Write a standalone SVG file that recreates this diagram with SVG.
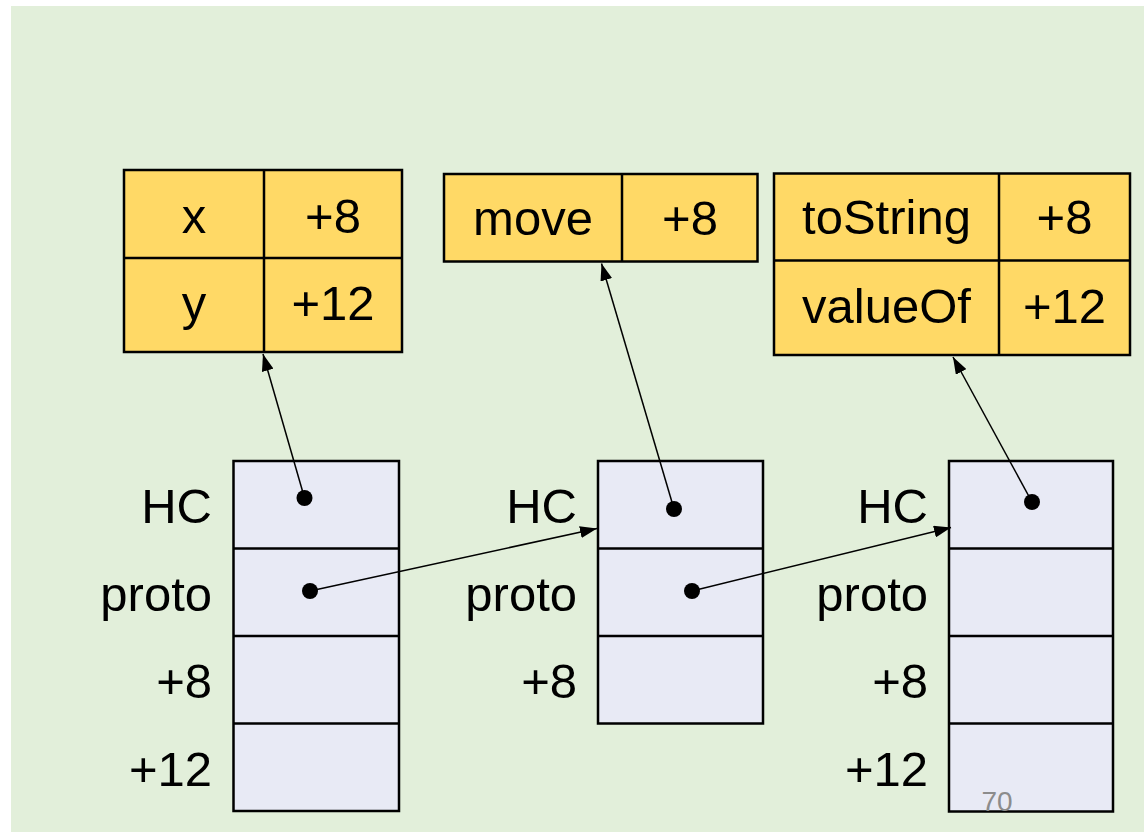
<svg xmlns="http://www.w3.org/2000/svg" width="1144" height="832" viewBox="0 0 1144 832">
<defs>
<style>
.t{font-family:"Liberation Sans",Arial,sans-serif;font-size:49px;fill:#000;text-anchor:middle}
.l{font-family:"Liberation Sans",Arial,sans-serif;font-size:49px;fill:#000;text-anchor:end}
.y{fill:#FFD966;stroke:#000;stroke-width:2.5}
.m{fill:#E8EAF5;stroke:#000;stroke-width:2.5}
.ln{stroke:#000;stroke-width:2.5;fill:none}
.c{stroke:#000;stroke-width:1.5;fill:none;marker-end:url(#ah)}
.pg{font-family:"Liberation Sans",Arial,sans-serif;font-size:28px;fill:#8C8C8C;text-anchor:middle}
</style>
<marker id="ah" viewBox="0 0 10 10" refX="10" refY="5" markerWidth="17" markerHeight="12" markerUnits="userSpaceOnUse" orient="auto-start-reverse" preserveAspectRatio="none">
<path d="M0,0 L10,5 L0,10 z" fill="#000"/>
</marker>
</defs>
<rect x="0" y="0" width="1144" height="832" fill="#fff"/>
<rect x="11" y="6" width="1133" height="826" fill="#E2EFDA"/>

<g id="table-xy">
<rect class="y" x="124" y="170" width="278" height="182"/>
<line class="ln" x1="124" y1="258" x2="402" y2="258"/>
<line class="ln" x1="264" y1="170" x2="264" y2="352"/>
<text class="t" x="194" y="233">x</text>
<text class="t" x="333" y="233">+8</text>
<text class="t" x="194" y="320">y</text>
<text class="t" x="333" y="320">+12</text>
</g>

<g id="table-move">
<rect class="y" x="444" y="174" width="313.5" height="87.5"/>
<line class="ln" x1="622" y1="174" x2="622" y2="261.5"/>
<text class="t" x="533" y="235">move</text>
<text class="t" x="690" y="235">+8</text>
</g>

<g id="table-proto">
<rect class="y" x="774" y="173.5" width="356" height="181.5"/>
<line class="ln" x1="774" y1="260.5" x2="1130" y2="260.5"/>
<line class="ln" x1="999" y1="173.5" x2="999" y2="355"/>
<text class="t" x="886.5" y="234">toString</text>
<text class="t" x="1064.5" y="234">+8</text>
<text class="t" x="886.5" y="323">valueOf</text>
<text class="t" x="1064.5" y="323">+12</text>
</g>

<g id="obj1">
<rect class="m" x="233.5" y="461" width="165.5" height="350"/>
<line class="ln" x1="233.5" y1="548.5" x2="399" y2="548.5"/>
<line class="ln" x1="233.5" y1="636" x2="399" y2="636"/>
<line class="ln" x1="233.5" y1="723.5" x2="399" y2="723.5"/>
<text class="l" x="212" y="523">HC</text>
<text class="l" x="212" y="611">proto</text>
<text class="l" x="212" y="698">+8</text>
<text class="l" x="212" y="786">+12</text>
<circle cx="304.5" cy="498" r="8"/>
<circle cx="310" cy="591" r="8"/>
</g>

<g id="obj2">
<rect class="m" x="598" y="461" width="165" height="262.5"/>
<line class="ln" x1="598" y1="548.5" x2="763" y2="548.5"/>
<line class="ln" x1="598" y1="636" x2="763" y2="636"/>
<text class="l" x="577" y="523">HC</text>
<text class="l" x="577" y="611">proto</text>
<text class="l" x="577" y="698">+8</text>
<circle cx="674" cy="509" r="8"/>
<circle cx="692" cy="591" r="8"/>
</g>

<g id="obj3">
<rect class="m" x="949" y="461" width="164" height="350.5"/>
<line class="ln" x1="949" y1="548.5" x2="1113" y2="548.5"/>
<line class="ln" x1="949" y1="636" x2="1113" y2="636"/>
<line class="ln" x1="949" y1="723.5" x2="1113" y2="723.5"/>
<text class="l" x="928" y="523">HC</text>
<text class="l" x="928" y="611">proto</text>
<text class="l" x="928" y="698">+8</text>
<text class="l" x="928" y="786">+12</text>
<circle cx="1032" cy="502" r="8"/>
</g>

<g id="connectors">
<line class="c" x1="304.5" y1="498" x2="263" y2="354"/>
<line class="c" x1="310" y1="591" x2="597" y2="528.5"/>
<line class="c" x1="674" y1="509" x2="601.5" y2="263.5"/>
<line class="c" x1="692" y1="591" x2="951" y2="527.5"/>
<line class="c" x1="1032" y1="502" x2="953" y2="357"/>
</g>

<text class="pg" x="997" y="811">70</text>
</svg>
